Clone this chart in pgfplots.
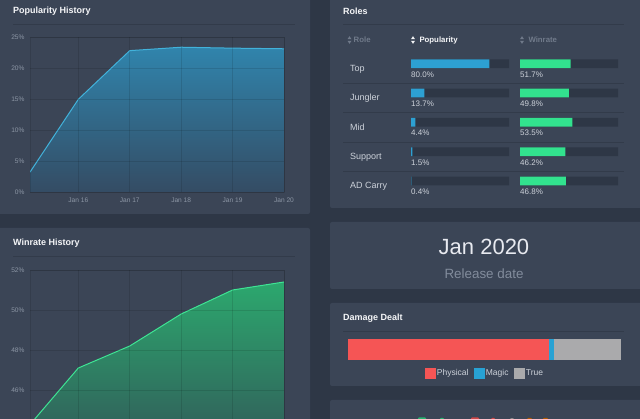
\documentclass[border=0pt]{standalone}
\usepackage{pgfplots}
\pgfplotsset{compat=1.18}
\usepackage{fontspec}
\setmainfont{Liberation Sans}
\definecolor{pagebg}{RGB}{46,55,70}
\definecolor{panel}{RGB}{59,69,86}
\definecolor{sepc}{RGB}{50,59,74}
\definecolor{titlec}{RGB}{245,246,248}
\definecolor{tickc}{RGB}{140,150,165}
\definecolor{rolec}{RGB}{205,210,218}
\definecolor{hdrgray}{RGB}{112,122,138}
\definecolor{track}{RGB}{46,55,70}
\definecolor{popbar}{RGB}{45,160,210}
\definecolor{winbar}{RGB}{50,226,142}
\definecolor{poptop}{RGB}{48,132,172}
\definecolor{popbot}{RGB}{52,76,100}
\definecolor{popline}{RGB}{66,178,218}
\definecolor{wintop}{RGB}{44,168,110}
\definecolor{winbot}{RGB}{50,80,86}
\definecolor{winline}{RGB}{62,228,148}
\definecolor{physc}{RGB}{245,85,85}
\definecolor{magicc}{RGB}{40,162,212}
\definecolor{truec}{RGB}{170,170,172}
\definecolor{bigc}{RGB}{232,234,240}
\definecolor{subc}{RGB}{130,140,156}
\pgfplotsset{
  histstyle/.style={scale only axis, width=254pt, xmin=0.06, xmax=5,
    xtick={1,2,3,4,5},
    grid=major, major grid style={black, opacity=0.11, line width=0.6pt},
    axis line style={black, opacity=0.11, line width=0.6pt},
    tick style={draw=none}, axis on top=true,
    ticklabel style={font=\fontsize{6.6}{8}\selectfont, text=tickc},
    xticklabel style={yshift=-2pt}, yticklabel style={xshift=-2pt}},
  rolestyle/.style={scale only axis, width=98pt, height=146.7pt,
    xmin=0, xmax=100, ymin=-0.5, ymax=4.5, y dir=reverse, hide axis, clip=false,
    xbar, bar width=8.7pt, bar shift=0pt}
}
\begin{document}
\begin{tikzpicture}[x=1pt,y=1pt]
\path[use as bounding box] (0,0) rectangle (640,419);
\clip (0,0) rectangle (640,419);
\fill[pagebg] (-5,-5) rectangle (645,425);
% panels
\fill[panel, rounded corners=2pt] (-5,205) rectangle (310,425);
\fill[panel, rounded corners=2pt] (-5,-10) rectangle (310,191);
\fill[panel, rounded corners=2pt] (330,211) rectangle (645,425);
\fill[panel, rounded corners=2pt] (330,130) rectangle (645,197);
\fill[panel, rounded corners=2pt] (330,33) rectangle (645,116);
\fill[panel, rounded corners=2pt] (330,-10) rectangle (645,19);
% titles
\tikzset{ttl/.style={anchor=west, inner sep=0, text=titlec, font=\fontsize{9}{11}\selectfont\bfseries}}
\node[ttl] at (13,408) {Popularity History};
\node[ttl] at (13,176) {Winrate History};
\node[ttl] at (343,408) {Roles};
\node[ttl] at (343,101) {Damage Dealt};
\draw[sepc, line width=0.7pt] (13,395) -- (295,395);
\draw[sepc, line width=0.7pt] (13,163) -- (295,163);
\draw[sepc, line width=0.7pt] (343,395) -- (624,395);
\draw[sepc, line width=0.7pt] (343,87.3) -- (624,87.3);
% Popularity history
\begin{axis}[histstyle, at={(30pt,227pt)}, anchor=south west, height=155pt,
  xticklabels={Jan 16,Jan 17,Jan 18,Jan 19,Jan 20},
  ymin=0, ymax=25, ytick={0,5,10,15,20,25},
  yticklabels={0\%,5\%,10\%,15\%,20\%,25\%}]
\addplot[draw=none, top color=poptop, bottom color=popbot] coordinates
  {(0.06,0) (0.06,3.2) (1,14.95) (2,22.8) (3,23.35) (4,23.2) (5,23.1) (5,0)};
\addplot[popline, line width=1pt] coordinates
  {(0.06,3.2) (1,14.95) (2,22.8) (3,23.35) (4,23.2) (5,23.1)};
\end{axis}
% Winrate history (lower part runs below the visible area)
\begin{axis}[histstyle, at={(30pt,-51pt)}, anchor=south west, height=200pt,
  xticklabels={},
  ymin=42, ymax=52, ytick={42,44,46,48,50,52},
  yticklabels={,,46\%,48\%,50\%,52\%}]
\addplot[draw=none, top color=wintop, bottom color=winbot] coordinates
  {(0.06,42) (0.06,44.27) (1,47.1) (2,48.2) (3,49.8) (4,51.0) (5,51.4) (5,42)};
\addplot[winline, line width=1pt] coordinates
  {(0.06,44.27) (1,47.1) (2,48.2) (3,49.8) (4,51.0) (5,51.4)};
\end{axis}
% Roles header
\tikzset{hdr/.style={anchor=west, inner sep=0, font=\fontsize{7.8}{9}\selectfont\bfseries}}
\foreach \xx/\cc in {349.5/hdrgray, 413/titlec, 522/hdrgray}{
  \fill[\cc] (\xx-2,379.8) -- (\xx+2,379.8) -- (\xx,382.8) -- cycle;
  \fill[\cc] (\xx-2,378.2) -- (\xx+2,378.2) -- (\xx,375.2) -- cycle;
}
\node[hdr, text=hdrgray] at (353.5,379) {Role};
\node[hdr, text=titlec] at (419.3,379) {Popularity};
\node[hdr, text=hdrgray] at (528.3,379) {Winrate};
% row separators
\foreach \yy in {335.7,306.3,277,247.7}{\draw[sepc, line width=0.7pt] (343,\yy) -- (624,\yy);}
% role names
\tikzset{rl/.style={anchor=west, inner sep=0, text=rolec, font=\fontsize{9}{11}\selectfont}}
\node[rl] at (350,350) {Top};
\node[rl] at (350,320.7) {Jungler};
\node[rl] at (350,291.3) {Mid};
\node[rl] at (350,262) {Support};
\node[rl] at (350,232.7) {AD Carry};
% popularity bars
\tikzset{vl/.style={anchor=west, inner sep=0, text=rolec, font=\fontsize{8}{9}\selectfont, yshift=-10.6pt}}
\begin{axis}[rolestyle, at={(411pt,223.3pt)}, anchor=south west]
\addplot[fill=track, draw=none] coordinates {(100,0) (100,1) (100,2) (100,3) (100,4)};
\addplot[fill=popbar, draw=none] coordinates {(80.0,0) (13.7,1) (4.4,2) (1.5,3) (0.4,4)};
\node[vl] at (axis cs:0,0) {80.0\%};
\node[vl] at (axis cs:0,1) {13.7\%};
\node[vl] at (axis cs:0,2) {4.4\%};
\node[vl] at (axis cs:0,3) {1.5\%};
\node[vl] at (axis cs:0,4) {0.4\%};
\end{axis}
% winrate bars
\begin{axis}[rolestyle, at={(520pt,223.3pt)}, anchor=south west]
\addplot[fill=track, draw=none] coordinates {(100,0) (100,1) (100,2) (100,3) (100,4)};
\addplot[fill=winbar, draw=none] coordinates {(51.7,0) (49.8,1) (53.5,2) (46.2,3) (46.8,4)};
\node[vl] at (axis cs:0,0) {51.7\%};
\node[vl] at (axis cs:0,1) {49.8\%};
\node[vl] at (axis cs:0,2) {53.5\%};
\node[vl] at (axis cs:0,3) {46.2\%};
\node[vl] at (axis cs:0,4) {46.8\%};
\end{axis}
% Release date
\node[inner sep=0, text=bigc, font=\fontsize{22}{26}\selectfont] at (484,172) {Jan 2020};
\node[inner sep=0, text=subc, font=\fontsize{13.4}{16}\selectfont] at (484,145) {Release date};
% Damage dealt
\begin{axis}[scale only axis, width=272.4pt, height=20.7pt, at={(348.3pt,59pt)}, anchor=south west,
  xmin=0, xmax=100, ymin=-0.5, ymax=0.5, hide axis, clip=false,
  xbar stacked, bar width=20.7pt, bar shift=0pt,
  legend columns=3,
  legend style={at={(0.5,-0.63)}, anchor=center, draw=none, fill=none,
    font=\fontsize{8.5}{10}\selectfont, text=rolec,
    nodes={inner sep=1.2pt},
    /tikz/every even column/.append style={column sep=4pt}},
  legend image code/.code={\fill[#1] (0pt,-5.5pt) rectangle (11pt,5.5pt);}]
\addplot[fill=physc, draw=none] coordinates {(73.8,0)};
\addplot[fill=magicc, draw=none] coordinates {(1.8,0)};
\addplot[fill=truec, draw=none] coordinates {(24.4,0)};
\legend{Physical,Magic,True}
\end{axis}
% bottom panel icon tops
\fill[winbar!80!black, rounded corners=1pt] (418,-3) rectangle (426,1.5);
\fill[winbar!80!black, rounded corners=1pt] (440,-3) rectangle (444,1);
\fill[physc!85!black, rounded corners=1pt] (471,-3) rectangle (479,1.5);
\fill[physc!85!black, rounded corners=1pt] (491,-3) rectangle (495,1);
\fill[truec!80!black, rounded corners=1pt] (510,-3) rectangle (514,0.8);
\fill[orange!70!black, rounded corners=1pt] (527,-3) rectangle (532,1);
\fill[orange!70!black, rounded corners=1pt] (543,-3) rectangle (548,1.2);
\end{tikzpicture}
\end{document}
